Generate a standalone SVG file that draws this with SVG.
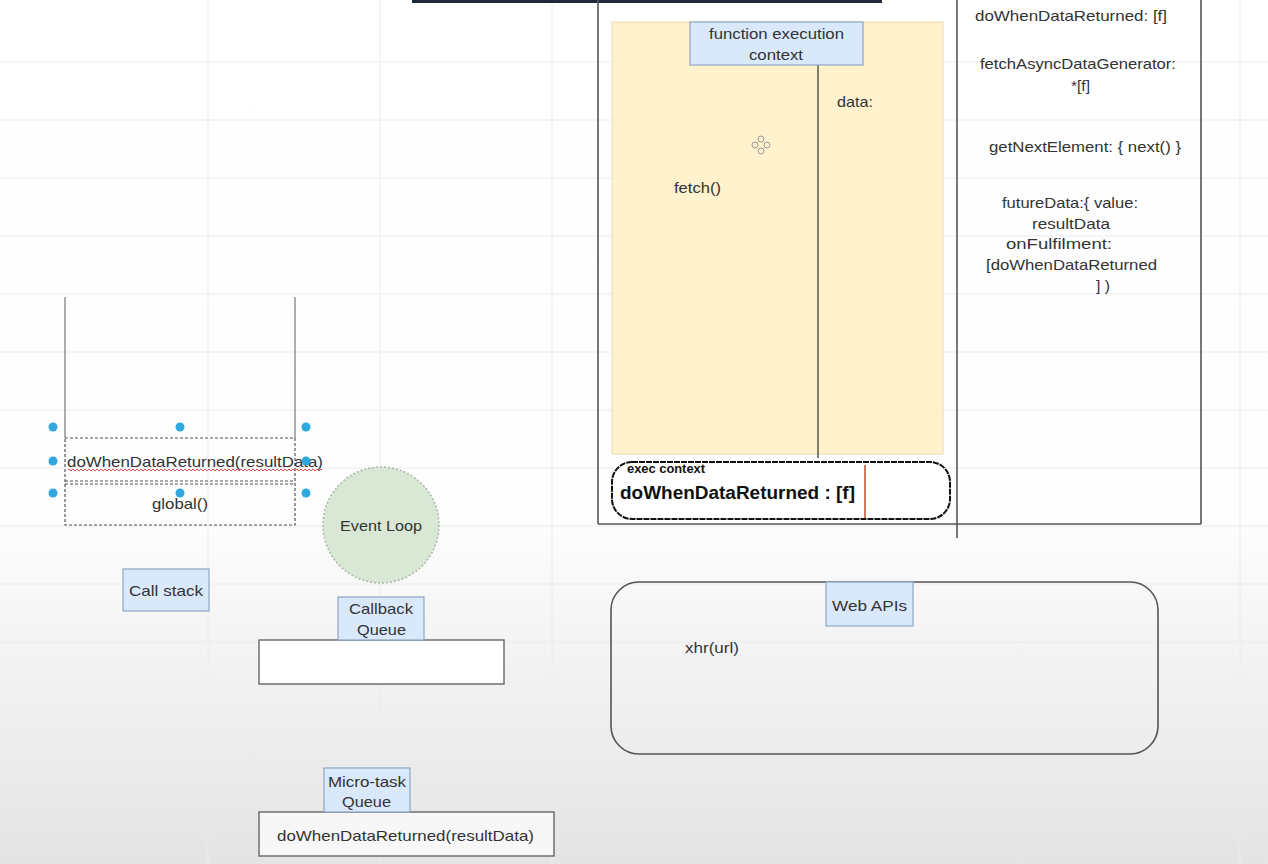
<svg xmlns="http://www.w3.org/2000/svg" width="1268" height="864" viewBox="0 0 1268 864">
<defs>
<linearGradient id="bg" x1="0" y1="0" x2="0" y2="1">
<stop offset="0" stop-color="#ffffff"/>
<stop offset="0.6" stop-color="#fdfdfd"/>
<stop offset="1" stop-color="#e4e4e4"/>
</linearGradient>
<pattern id="wave" x="0" y="0" width="4" height="3" patternUnits="userSpaceOnUse">
<path d="M0 2 Q1 0 2 2 T4 2" fill="none" stroke="#e04040" stroke-width="0.9"/>
</pattern>
<style>
.t{font-family:"Liberation Sans",Arial,sans-serif;font-size:15px;fill:#333;}
.lbl{fill:#dae8fc;stroke:#8ea5c6;stroke-width:1.2;}
.grid{stroke:#ececec;stroke-width:1;}
.frame{stroke:#555;stroke-width:1.6;fill:none;}
.dot{fill:#2fa8e0;}
.dash{fill:none;stroke:#555;stroke-width:1.2;stroke-dasharray:3 2;}
</style>
</defs>
<rect width="1268" height="864" fill="url(#bg)"/>
<g id="grid">
<line class="grid" x1="0" y1="62" x2="1268" y2="62"/>
<line class="grid" x1="0" y1="120" x2="1268" y2="120"/>
<line class="grid" x1="0" y1="178" x2="1268" y2="178"/>
<line class="grid" x1="0" y1="236" x2="1268" y2="236"/>
<line class="grid" x1="0" y1="294" x2="1268" y2="294"/>
<line class="grid" x1="0" y1="352" x2="1268" y2="352"/>
<line class="grid" x1="0" y1="410" x2="1268" y2="410"/>
<line class="grid" x1="0" y1="468" x2="1268" y2="468"/>
<line class="grid" x1="0" y1="526" x2="1268" y2="526"/>
<line class="grid" x1="0" y1="584" x2="1268" y2="584"/>
<line class="grid" x1="0" y1="642" x2="1268" y2="642"/>
<line class="grid" x1="208" y1="0" x2="208" y2="864"/>
<line class="grid" x1="380" y1="0" x2="380" y2="864"/>
<line class="grid" x1="552" y1="0" x2="552" y2="864"/>
<line class="grid" x1="1240" y1="0" x2="1240" y2="864"/>
</g>
<g id="topbar"><rect x="412" y="0" width="470" height="3" fill="#1e2a3a"/></g>
<g id="frame">
<line class="frame" x1="598" y1="0" x2="598" y2="524"/>
<line class="frame" x1="598" y1="524" x2="1201" y2="524"/>
<line class="frame" x1="1201" y1="0" x2="1201" y2="524"/>
<line class="frame" x1="957" y1="0" x2="957" y2="538"/>
</g>
<g id="function-exec">
<rect x="612" y="22" width="331" height="432" fill="#fff2cc" stroke="#eadcae" stroke-width="1"/>
<line x1="818" y1="65" x2="818" y2="458" stroke="#5a5a4a" stroke-width="1.5"/>
<rect class="lbl" x="690" y="22" width="173" height="43"/>
<text class="t" x="709" y="39" textLength="135" lengthAdjust="spacingAndGlyphs">function execution</text>
<text class="t" x="749" y="60" textLength="54" lengthAdjust="spacingAndGlyphs">context</text>
<text class="t" x="837" y="107" textLength="36" lengthAdjust="spacingAndGlyphs">data:</text>
<text class="t" x="674" y="193" textLength="47" lengthAdjust="spacingAndGlyphs">fetch()</text>
<g id="move-icon" fill="none" stroke="#999" stroke-width="1">
<circle cx="761" cy="139" r="3"/><circle cx="761" cy="151" r="3"/><circle cx="755" cy="145" r="3"/><circle cx="767" cy="145" r="3"/>
</g>
</g>
<g id="exec-context">
<rect x="612" y="462" width="338" height="57" rx="20" fill="#fff" stroke="#111" stroke-width="2" stroke-dasharray="6 1"/>
<text x="627" y="473" textLength="78" lengthAdjust="spacingAndGlyphs" style="font-family:'Liberation Sans',Arial,sans-serif;font-size:12px;font-weight:bold;fill:#111">exec context</text>
<text x="620" y="499" textLength="235" lengthAdjust="spacingAndGlyphs" style="font-family:'Liberation Sans',Arial,sans-serif;font-size:18px;font-weight:bold;fill:#111">doWhenDataReturned : [f]</text>
<line x1="865" y1="465" x2="865" y2="518" stroke="#c0502a" stroke-width="1.5"/>
</g>
<g id="global-memory">
<text class="t" x="975" y="21" textLength="192" lengthAdjust="spacingAndGlyphs">doWhenDataReturned: [f]</text>
<text class="t" x="980" y="69" textLength="196" lengthAdjust="spacingAndGlyphs">fetchAsyncDataGenerator:</text>
<text class="t" x="1071" y="91" textLength="19" lengthAdjust="spacingAndGlyphs">*[f]</text>
<text class="t" x="989" y="152" textLength="192" lengthAdjust="spacingAndGlyphs">getNextElement: { next() }</text>
<text class="t" x="1002" y="208" textLength="136" lengthAdjust="spacingAndGlyphs">futureData:{ value:</text>
<text class="t" x="1032" y="229" textLength="78" lengthAdjust="spacingAndGlyphs">resultData</text>
<text class="t" x="1006" y="249" textLength="106" lengthAdjust="spacingAndGlyphs">onFulfilment:</text>
<text class="t" x="986" y="270" textLength="171" lengthAdjust="spacingAndGlyphs">[doWhenDataReturned</text>
<text class="t" x="1096" y="291" textLength="14" lengthAdjust="spacingAndGlyphs">] )</text>
</g>
<g id="call-stack">
<line x1="65" y1="297" x2="65" y2="438" stroke="#777" stroke-width="1.2"/>
<line x1="295" y1="297" x2="295" y2="438" stroke="#777" stroke-width="1.2"/>
<rect class="dash" x="65" y="438" width="230" height="87"/>
<line class="dash" x1="65" y1="481" x2="295" y2="481"/>
<line class="dash" x1="65" y1="484" x2="295" y2="484"/>
<text class="t" x="67" y="467" textLength="256" lengthAdjust="spacingAndGlyphs">doWhenDataReturned(resultData)</text>
<rect x="68" y="469" width="254" height="3" fill="url(#wave)"/>
<text class="t" x="152" y="509" textLength="56" lengthAdjust="spacingAndGlyphs">global()</text>
<circle class="dot" cx="53" cy="427" r="4.5"/><circle class="dot" cx="180" cy="427" r="4.5"/><circle class="dot" cx="306" cy="427" r="4.5"/>
<circle class="dot" cx="53" cy="461" r="4.5"/><circle class="dot" cx="306" cy="461" r="4.5"/>
<circle class="dot" cx="53" cy="493" r="4.5"/><circle class="dot" cx="180" cy="493" r="4.5"/><circle class="dot" cx="306" cy="493" r="4.5"/>
</g>
<g id="event-loop">
<circle cx="381" cy="525" r="58" fill="#d9e8d5" stroke="#a9b8a5" stroke-width="1.5" stroke-dasharray="2 2"/>
<text class="t" x="340" y="531" textLength="82" lengthAdjust="spacingAndGlyphs">Event Loop</text>
</g>
<g id="call-stack-label">
<rect class="lbl" x="123" y="569" width="86" height="42"/>
<text class="t" x="129" y="596" textLength="74" lengthAdjust="spacingAndGlyphs">Call stack</text>
</g>
<g id="callback-queue">
<rect x="259" y="640" width="245" height="44" fill="#fff" stroke="#666" stroke-width="1.4"/>
<rect class="lbl" x="338" y="597" width="86" height="43"/>
<text class="t" x="349" y="614" textLength="64" lengthAdjust="spacingAndGlyphs">Callback</text>
<text class="t" x="357" y="635" textLength="49" lengthAdjust="spacingAndGlyphs">Queue</text>
</g>
<g id="microtask-queue">
<rect x="259" y="812" width="295" height="44" fill="#f7f7f7" stroke="#666" stroke-width="1.4"/>
<rect class="lbl" x="324" y="768" width="86" height="44"/>
<text class="t" x="328" y="787" textLength="78" lengthAdjust="spacingAndGlyphs">Micro-task</text>
<text class="t" x="342" y="807" textLength="49" lengthAdjust="spacingAndGlyphs">Queue</text>
<text class="t" x="277" y="841" textLength="257" lengthAdjust="spacingAndGlyphs">doWhenDataReturned(resultData)</text>
</g>
<g id="web-apis">
<rect x="611" y="582" width="547" height="172" rx="28" fill="none" stroke="#555" stroke-width="1.6"/>
<rect class="lbl" x="826" y="582" width="87" height="44"/>
<text class="t" x="832" y="611" textLength="75" lengthAdjust="spacingAndGlyphs">Web APIs</text>
<text class="t" x="685" y="653" textLength="54" lengthAdjust="spacingAndGlyphs">xhr(url)</text>
</g>
</svg>
